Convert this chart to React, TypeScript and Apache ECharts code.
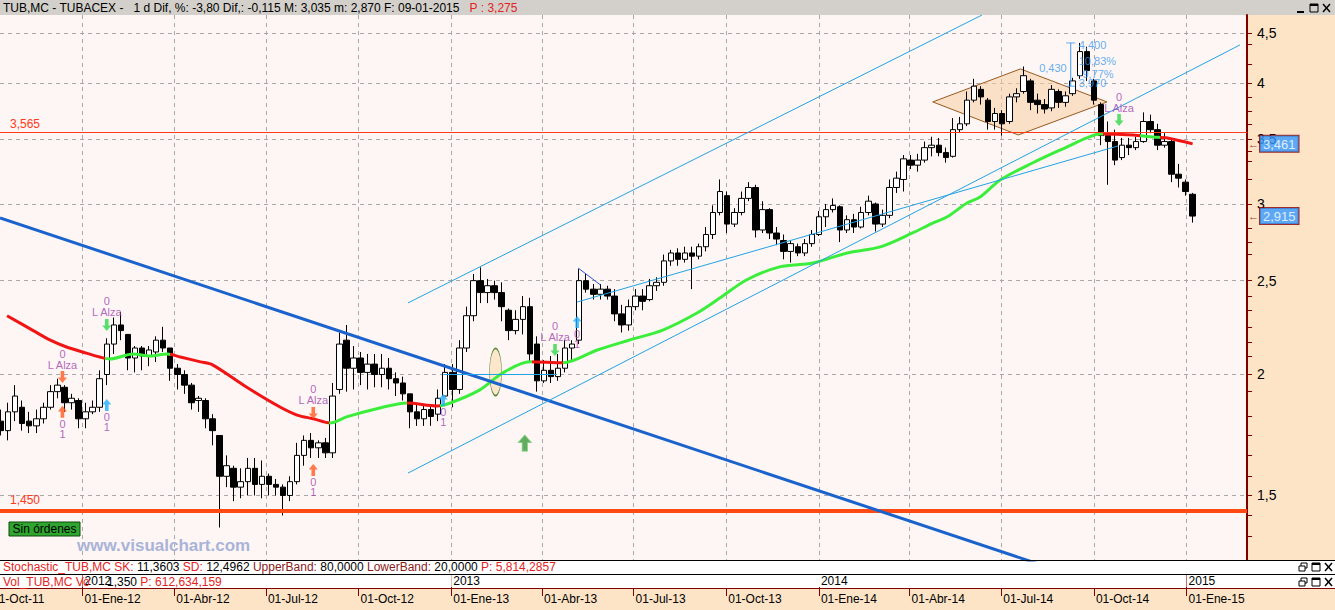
import React, { useEffect, useRef } from 'react';
import * as echarts from 'echarts';

const W = 1335;
const H = 610;
const DAY = 86400000;
const FONT = 'Liberation Sans, Arial, sans-serif';

// ---------- axis / category data ----------
const xMinDate = '2011-10-11';
const xMaxDate = '2015-03-02';
const yMinPrice = 1.2866;
const yMaxPrice = 4.702;
const firstWeek = '2011-10-12';
const quarterDates = ['2012-01-01', '2012-04-01', '2012-07-01', '2012-10-01', '2013-01-01', '2013-04-01', '2013-07-01', '2013-10-01', '2014-01-01', '2014-04-01', '2014-07-01', '2014-10-01', '2015-01-01'];
const yearDates = ['2012-01-01', '2013-01-01', '2014-01-01', '2015-01-01'];
const monthNames = ['Ene', 'Feb', 'Mar', 'Abr', 'May', 'Jun', 'Jul', 'Ago', 'Sep', 'Oct', 'Nov', 'Dic'];
const priceTicks = [1.5, 2, 2.5, 3, 3.5, 4, 4.5];
const minorPriceTicks = [4.39, 4.18, 3.87, 3.74, 3.63, 3.4, 3.32, 3.18, 2.83, 2.74, 2.66, 2.41, 2.33, 2.24, 2.16, 2.09, 1.92, 1.81, 1.73, 1.65, 1.57, 1.43, 1.36];

// ---------- weekly OHLC [open, close, low, high] ----------
const weeklyOHLC = [
  [1.79, 1.75, 1.73, 1.84], [1.75, 1.83, 1.71, 1.87], [1.83, 1.90, 1.79, 1.95], [1.85, 1.78, 1.75, 1.88],
  [1.79, 1.77, 1.74, 1.83], [1.77, 1.80, 1.74, 1.84], [1.80, 1.85, 1.78, 1.87], [1.85, 1.92, 1.84, 1.95],
  [1.92, 1.95, 1.89, 1.98], [1.94, 1.87, 1.83, 1.95], [1.87, 1.89, 1.84, 1.91], [1.88, 1.80, 1.76, 1.89],
  [1.80, 1.83, 1.76, 1.87], [1.83, 1.85, 1.82, 1.88], [1.85, 1.98, 1.83, 2.02], [2.00, 2.15, 1.95, 2.18],
  [2.15, 2.25, 2.10, 2.29], [2.25, 2.22, 2.17, 2.32], [2.20, 2.08, 2.02, 2.20], [2.08, 2.13, 2.01, 2.14],
  [2.13, 2.09, 2.02, 2.14], [2.09, 2.12, 2.04, 2.14], [2.11, 2.17, 2.06, 2.19], [2.17, 2.13, 2.11, 2.24],
  [2.13, 2.03, 1.97, 2.13], [2.03, 2.00, 1.93, 2.05], [2.00, 1.95, 1.91, 2.02], [1.95, 1.87, 1.84, 1.96],
  [1.88, 1.89, 1.83, 1.90], [1.88, 1.80, 1.76, 1.89], [1.80, 1.75, 1.69, 1.82], [1.73, 1.57, 1.39, 1.73],
  [1.57, 1.61, 1.53, 1.65], [1.60, 1.53, 1.48, 1.61], [1.53, 1.55, 1.49, 1.60], [1.55, 1.60, 1.50, 1.64],
  [1.60, 1.54, 1.50, 1.64], [1.54, 1.57, 1.49, 1.63], [1.57, 1.54, 1.50, 1.58], [1.54, 1.53, 1.50, 1.56],
  [1.53, 1.50, 1.43, 1.54], [1.50, 1.55, 1.48, 1.57], [1.55, 1.65, 1.54, 1.70], [1.65, 1.71, 1.61, 1.73],
  [1.71, 1.68, 1.64, 1.74], [1.68, 1.70, 1.64, 1.71], [1.70, 1.66, 1.64, 1.72], [1.66, 1.90, 1.64, 1.96],
  [1.93, 2.15, 1.91, 2.21], [2.17, 2.03, 1.92, 2.25], [2.03, 2.08, 1.93, 2.14], [2.08, 2.01, 1.95, 2.11],
  [2.01, 2.05, 1.93, 2.10], [2.05, 2.00, 1.94, 2.10], [2.00, 2.03, 1.94, 2.10], [2.03, 1.98, 1.93, 2.08],
  [1.98, 1.96, 1.90, 2.01], [1.96, 1.91, 1.88, 1.99], [1.91, 1.83, 1.76, 1.91], [1.83, 1.80, 1.77, 1.86],
  [1.80, 1.84, 1.77, 1.86], [1.84, 1.81, 1.77, 1.86], [1.82, 1.89, 1.79, 1.93], [1.90, 2.01, 1.90, 2.05],
  [2.01, 1.93, 1.85, 2.05], [1.93, 2.13, 1.91, 2.17], [2.13, 2.30, 2.11, 2.35], [2.30, 2.50, 2.27, 2.54],
  [2.50, 2.43, 2.37, 2.58], [2.43, 2.47, 2.37, 2.51], [2.47, 2.43, 2.39, 2.50], [2.43, 2.35, 2.27, 2.49],
  [2.33, 2.22, 2.17, 2.34], [2.22, 2.28, 2.20, 2.33], [2.28, 2.35, 2.20, 2.41], [2.35, 2.10, 2.06, 2.40],
  [2.15, 1.97, 1.92, 2.19], [1.97, 2.02, 1.96, 2.07], [2.02, 1.99, 1.96, 2.09], [1.99, 2.03, 1.97, 2.10],
  [2.03, 2.13, 2.01, 2.17], [2.13, 2.15, 2.07, 2.17], [2.17, 2.50, 2.15, 2.57], [2.50, 2.45, 2.43, 2.54],
  [2.45, 2.42, 2.39, 2.48], [2.42, 2.45, 2.39, 2.48], [2.45, 2.41, 2.39, 2.47], [2.41, 2.31, 2.27, 2.45],
  [2.31, 2.25, 2.21, 2.36], [2.25, 2.35, 2.22, 2.39], [2.35, 2.41, 2.33, 2.45], [2.41, 2.38, 2.33, 2.45],
  [2.39, 2.47, 2.38, 2.51], [2.47, 2.49, 2.44, 2.52], [2.49, 2.62, 2.47, 2.66], [2.62, 2.67, 2.59, 2.69],
  [2.67, 2.63, 2.59, 2.70], [2.63, 2.67, 2.61, 2.71], [2.67, 2.65, 2.45, 2.71], [2.65, 2.71, 2.63, 2.73],
  [2.71, 2.79, 2.68, 2.84], [2.79, 2.94, 2.76, 2.99], [2.94, 3.09, 2.92, 3.18], [3.06, 2.86, 2.80, 3.09],
  [2.86, 2.94, 2.84, 2.97], [2.94, 3.04, 2.92, 3.09], [3.04, 3.12, 3.02, 3.16], [3.12, 2.82, 2.77, 3.14],
  [2.82, 2.96, 2.80, 3.02], [2.96, 2.80, 2.76, 2.97], [2.80, 2.76, 2.72, 2.84], [2.75, 2.68, 2.63, 2.79],
  [2.68, 2.73, 2.61, 2.75], [2.71, 2.67, 2.65, 2.73], [2.67, 2.73, 2.65, 2.76], [2.73, 2.79, 2.71, 2.82],
  [2.79, 2.91, 2.78, 2.95], [2.91, 2.96, 2.84, 3.00], [2.96, 2.99, 2.94, 3.04], [2.98, 2.82, 2.74, 2.99],
  [2.82, 2.89, 2.80, 2.92], [2.89, 2.84, 2.80, 2.93], [2.84, 2.94, 2.83, 2.98], [2.94, 3.02, 2.92, 3.06],
  [3.00, 2.86, 2.81, 3.01], [2.86, 2.92, 2.84, 2.96], [2.92, 3.12, 2.90, 3.18], [3.12, 3.19, 3.08, 3.24],
  [3.18, 3.34, 3.09, 3.37], [3.33, 3.29, 3.26, 3.37], [3.29, 3.33, 3.24, 3.38], [3.33, 3.43, 3.31, 3.48],
  [3.43, 3.45, 3.36, 3.52], [3.45, 3.39, 3.36, 3.51], [3.39, 3.35, 3.31, 3.43], [3.36, 3.58, 3.35, 3.68],
  [3.58, 3.63, 3.56, 3.69], [3.63, 3.84, 3.61, 3.92], [3.84, 3.97, 3.82, 4.04], [3.94, 3.87, 3.80, 3.97],
  [3.84, 3.65, 3.58, 3.86], [3.65, 3.72, 3.58, 3.77], [3.72, 3.63, 3.53, 3.75], [3.65, 3.87, 3.63, 3.90],
  [3.87, 3.90, 3.82, 3.95], [3.92, 4.07, 3.90, 4.16], [4.02, 3.82, 3.75, 4.04], [3.84, 3.80, 3.72, 3.90],
  [3.80, 3.76, 3.72, 3.85], [3.77, 3.94, 3.74, 3.98], [3.92, 3.82, 3.77, 3.94], [3.82, 3.88, 3.78, 3.92],
  [3.90, 4.02, 3.88, 4.05], [4.07, 4.31, 4.04, 4.40], [4.31, 4.12, 4.02, 4.36], [4.02, 3.84, 3.80, 4.04],
  [3.80, 3.53, 3.45, 3.82], [3.53, 3.48, 3.14, 3.65], [3.48, 3.33, 3.29, 3.58], [3.35, 3.45, 3.33, 3.51],
  [3.45, 3.43, 3.37, 3.51], [3.43, 3.48, 3.41, 3.52], [3.48, 3.65, 3.47, 3.73], [3.65, 3.58, 3.55, 3.71],
  [3.58, 3.45, 3.41, 3.63], [3.45, 3.48, 3.43, 3.55], [3.48, 3.22, 3.16, 3.50], [3.22, 3.19, 3.12, 3.30],
  [3.16, 3.09, 3.06, 3.18], [3.07, 2.915, 2.87, 3.08],
];

// ---------- moving average ----------
const maDates = ['2011-10-18', '2011-11-13', '2011-11-30', '2011-12-16', '2012-01-01', '2012-01-18', '2012-01-28', '2012-02-20', '2012-03-08', '2012-03-25', '2012-04-07', '2012-04-27', '2012-05-09', '2012-06-12', '2012-07-15', '2012-08-01', '2012-08-17', '2012-09-03', '2012-09-19', '2012-10-22', '2012-11-18', '2012-12-18', '2012-12-31', '2013-01-29', '2013-02-21', '2013-03-20', '2013-04-22', '2013-05-26', '2013-06-27', '2013-07-30', '2013-09-02', '2013-09-25', '2013-10-21', '2013-11-23', '2013-12-26', '2014-01-29', '2014-03-03', '2014-04-04', '2014-04-24', '2014-05-08', '2014-05-28', '2014-06-10', '2014-06-30', '2014-08-01', '2014-09-04', '2014-09-24', '2014-10-07', '2014-11-09', '2014-11-29', '2014-12-13', '2015-01-07'];
const maValues = [2.30, 2.22, 2.17, 2.135, 2.11, 2.085, 2.075, 2.10, 2.09, 2.10, 2.085, 2.061, 2.046, 1.94, 1.851, 1.816, 1.80, 1.782, 1.808, 1.847, 1.869, 1.856, 1.869, 1.927, 2.007, 2.061, 2.056, 2.12, 2.171, 2.223, 2.315, 2.40, 2.504, 2.583, 2.607, 2.67, 2.709, 2.80, 2.867, 2.908, 3.007, 3.05, 3.176, 3.307, 3.435, 3.51, 3.543, 3.535, 3.518, 3.51, 3.461];
const MA_RED = '#f01414';
const MA_GREEN = '#3cee3c';
const maSegmentEnds = ['2012-01-23', '2012-03-28', '2012-09-02', '2012-11-18', '2012-12-21', '2013-03-22', '2013-04-22', '2014-10-10', '2014-11-16', '2014-12-06'];
const maSegmentColors = [MA_RED, MA_GREEN, MA_RED, MA_GREEN, MA_RED, MA_GREEN, MA_RED, MA_GREEN, MA_RED, MA_GREEN, MA_RED];

// ---------- levels & drawings ----------
const resistanceLevel = 3.565;
const supportLevel = 1.45;
const trendLines = [
  { from: ['2011-10-11', 2.902], to: ['2014-10-07', 1.214], color: '#1b63cc', width: 3 },
  { from: ['2012-11-19', 2.371], to: ['2014-06-12', 4.702], color: '#22a2e6', width: 1 },
  { from: ['2012-11-19', 1.582], to: ['2015-02-23', 4.379], color: '#22a2e6', width: 1 },
  { from: ['2013-05-06', 2.376], to: ['2014-10-25', 3.444], color: '#22a2e6', width: 1 },
  { from: ['2013-05-07', 2.576], to: ['2013-05-29', 2.475], color: '#2a50d0', width: 1 },
  { from: ['2012-12-24', 2.0], to: ['2013-04-16', 2.0], color: '#22a2e6', width: 1 },
];
const diamondVerts = [['2014-04-24', 3.824], ['2014-07-20', 4.136], ['2014-10-14', 3.824], ['2014-07-18', 3.535]];
const ellipseAt = { date: '2013-02-14', price: 2.012 };

const downSignals = [
  { date: '2011-12-12', price: 1.988, color: '#ff5a22' },
  { date: '2012-01-25', price: 2.25, color: '#2ed84a' },
  { date: '2012-08-17', price: 1.825, color: '#ff5a22' },
  { date: '2013-04-14', price: 2.12, color: '#2ed84a' },
  { date: '2014-10-26', price: 3.663, color: '#2ed84a' },
];
const upSignals = [
  { date: '2011-12-12', price: 1.83, color: '#ff5a22' },
  { date: '2012-01-25', price: 1.86, color: '#20b0ff' },
  { date: '2012-08-17', price: 1.594, color: '#ff5a22' },
  { date: '2012-12-24', price: 1.882, color: '#20b0ff' },
  { date: '2013-05-06', price: 2.266, color: '#20b0ff' },
];
const buyMarker = { date: '2013-03-15', price: 1.699 };

const measureDate = '2014-09-08';
const measureHigh = 4.4;
const measureLow = 3.97;
const measureLabels = [
  { text: '4,400', price: 4.38, side: 'right' },
  { text: '10,83%', price: 4.215, side: 'right' },
  { text: '0,430', price: 4.145, side: 'left' },
  { text: '-9,77%', price: 4.087, side: 'right' },
  { text: '3,970', price: 4.0, side: 'right' },
];
const lastMA = 3.461;
const lastClose = 2.915;

// ---------- helpers ----------
const ts = (s: string) => {
  const [y, m, d] = s.split('-').map(Number);
  return Date.UTC(y, m - 1, d);
};
const L = Math.log;
const comma = (n: number, dec: number) => n.toFixed(dec).replace('.', ',');
const fmtDate = (v: number) => {
  const d = new Date(v);
  return `${String(d.getUTCDate()).padStart(2, '0')}-${monthNames[d.getUTCMonth()]}-${String(d.getUTCFullYear()).slice(2)}`;
};
const ARROW = 'path://M5,0L10,6L7,6L7,13L3,13L3,6L0,6Z';

function buildOption() {
  const xMin = ts(xMinDate);
  const xMax = ts(xMaxDate);
  const quarterTs = quarterDates.map(ts);
  const yearTs = yearDates.map(ts);
  const t0 = ts(firstWeek);

  const candleData = weeklyOHLC.map((r, i) => [t0 + i * 7 * DAY, L(r[0]), L(r[1]), L(r[2]), L(r[3])]);
  const maData = maDates.map((d, i) => [ts(d), L(maValues[i])]);

  const pieces = maSegmentColors.map((c, i) => {
    const p: any = { color: c };
    if (i > 0) p.gte = ts(maSegmentEnds[i - 1]);
    if (i < maSegmentEnds.length) p.lt = ts(maSegmentEnds[i]);
    return p;
  });

  const series: any[] = [];

  series.push({
    type: 'custom',
    xAxisIndex: 0,
    yAxisIndex: 0,
    z: 1,
    silent: true,
    data: diamondVerts.map((v) => [ts(v[0] as string), L(v[1] as number)]),
    encode: { x: 0, y: 1 },
    renderItem: (params: any, api: any) => {
      if (params.dataIndex !== 0) return null;
      const pts = diamondVerts.map((v) => api.coord([ts(v[0] as string), L(v[1] as number)]));
      return {
        type: 'polygon',
        shape: { points: pts },
        style: { fill: 'rgba(246,206,160,0.55)', stroke: '#9a5a20', lineWidth: 1 },
      };
    },
  });

  series.push({
    type: 'scatter',
    xAxisIndex: 0,
    yAxisIndex: 0,
    z: 2,
    silent: true,
    symbol: 'circle',
    symbolSize: [12, 47],
    itemStyle: { color: '#fbe2c2', borderColor: '#2f6a12', borderWidth: 1 },
    data: [[ts(ellipseAt.date), L(ellipseAt.price)]],
  });

  series.push({
    type: 'candlestick',
    xAxisIndex: 0,
    yAxisIndex: 0,
    z: 3,
    barWidth: 6,
    data: candleData,
    itemStyle: { color: '#ffffff', color0: '#000000', borderColor: '#000000', borderColor0: '#000000', borderWidth: 1 },
    markLine: {
      silent: true,
      symbol: 'none',
      data: [
        {
          yAxis: L(resistanceLevel),
          lineStyle: { color: '#ff3a1a', width: 1, type: 'solid' },
          label: { show: true, position: 'insideStartTop', formatter: comma(resistanceLevel, 3), color: '#ff3a1a', fontSize: 12, fontFamily: FONT, distance: [10, 2] },
        },
        {
          yAxis: L(supportLevel),
          lineStyle: { color: '#ff4a14', width: 4, type: 'solid' },
          label: { show: true, position: 'insideStartTop', formatter: comma(supportLevel, 3), color: '#ff3a1a', fontSize: 12, fontFamily: FONT, distance: [10, 4] },
        },
      ],
    },
  });

  const maIndex = series.length;
  series.push({
    type: 'line',
    xAxisIndex: 0,
    yAxisIndex: 0,
    z: 4,
    data: maData,
    smooth: 0.3,
    symbol: 'none',
    lineStyle: { width: 3 },
  });

  trendLines.forEach((t) => {
    series.push({
      type: 'line',
      xAxisIndex: 0,
      yAxisIndex: 0,
      z: 5,
      symbol: 'none',
      silent: true,
      data: [
        [ts(t.from[0] as string), L(t.from[1] as number)],
        [ts(t.to[0] as string), L(t.to[1] as number)],
      ],
      lineStyle: { color: t.color, width: t.width },
    });
  });

  // measurement line
  series.push({
    type: 'line',
    xAxisIndex: 0,
    yAxisIndex: 0,
    z: 6,
    symbol: 'none',
    data: [
      [ts(measureDate), L(measureHigh)],
      [ts(measureDate), L(measureLow)],
    ],
    lineStyle: { color: '#3a9af0', width: 1 },
  });
  series.push({
    type: 'scatter',
    xAxisIndex: 0,
    yAxisIndex: 0,
    z: 6,
    symbol: 'rect',
    symbolSize: [9, 1],
    itemStyle: { color: '#3a9af0' },
    data: [[ts(measureDate), L(measureHigh)], [ts(measureDate), L(measureLow)]],
  });
  series.push({
    type: 'scatter',
    xAxisIndex: 0,
    yAxisIndex: 0,
    z: 7,
    symbolSize: 0,
    data: measureLabels.map((m) => ({
      value: [ts(measureDate), L(m.price)],
      label: {
        show: true,
        position: m.side,
        distance: m.side === 'right' ? 8 : 4,
        formatter: m.text,
        color: '#3a9af0',
        fontSize: 11,
        lineHeight: 11,
        fontFamily: FONT,
      },
    })),
  });

  // signals
  const sigData: any[] = [];
  downSignals.forEach((s) => {
    sigData.push({
      value: [ts(s.date), L(s.price)],
      symbol: ARROW,
      symbolSize: [9, 12],
      symbolRotate: 180,
      itemStyle: { color: s.color },
      label: { show: true, position: 'top', distance: 1, formatter: '0\nL Alza', color: '#a040b0', fontSize: 11, lineHeight: 11, fontFamily: FONT, align: 'center' },
    });
  });
  upSignals.forEach((s) => {
    sigData.push({
      value: [ts(s.date), L(s.price)],
      symbol: ARROW,
      symbolSize: [9, 12],
      itemStyle: { color: s.color },
      label: { show: true, position: 'bottom', distance: 1, formatter: '0\n1', color: '#a040b0', fontSize: 11, lineHeight: 10, fontFamily: FONT, align: 'center' },
    });
  });
  sigData.push({
    value: [ts(buyMarker.date), L(buyMarker.price)],
    symbol: ARROW,
    symbolSize: [13, 16],
    itemStyle: { color: '#3a9a3a', borderColor: '#7ad07a', borderWidth: 1 },
  });
  series.push({ type: 'scatter', xAxisIndex: 0, yAxisIndex: 0, z: 8, data: sigData });

  // axis value boxes
  series.push({
    type: 'scatter',
    xAxisIndex: 0,
    yAxisIndex: 0,
    z: 9,
    symbolSize: 0,
    clip: false,
    data: [lastMA, lastClose].map((v) => ({
      value: [xMax, L(v)],
      label: {
        show: true,
        position: 'right',
        distance: 1,
        formatter: `{a|←}{b|${comma(v, 3)}}`,
        rich: {
          a: { color: '#800000', fontSize: 11, fontFamily: FONT, padding: [0, 1, 0, 0] },
          b: { color: '#ffffff', backgroundColor: '#3399ff', borderColor: '#800000', borderWidth: 1, padding: [2, 3, 1, 3], fontSize: 13, fontFamily: FONT },
        },
      },
    })),
  });

  const dashed = { color: '#a8a8a8', type: [4, 4] as any, width: 1 };

  // zrender rich styles for graphic text use `fill`
  const rich = {
    k: { fill: '#000000', fontSize: 12, fontFamily: FONT },
    r: { fill: '#e52222', fontSize: 12, fontFamily: FONT },
    d: { fill: '#8b1a1a', fontSize: 12, fontFamily: FONT },
  };

  const icon = (x: number, y: number, restore: boolean) => {
    const els: any[] = [];
    if (restore) {
      els.push({ type: 'rect', shape: { x: x + 2, y: y, width: 6, height: 5 }, style: { fill: 'none', stroke: '#000', lineWidth: 1 } });
      els.push({ type: 'rect', shape: { x: x, y: y + 3, width: 6, height: 5 }, style: { fill: '#fff', stroke: '#000', lineWidth: 1 } });
    } else {
      els.push({ type: 'line', shape: { x1: x, y1: y + 8, x2: x + 7, y2: y + 8 }, style: { stroke: '#000', lineWidth: 2 } });
    }
    els.push({ type: 'rect', shape: { x: x + 13, y: y, width: 8, height: 8 }, style: { fill: 'none', stroke: '#000', lineWidth: 1 } });
    els.push({ type: 'line', shape: { x1: x + 13, y1: y + 1, x2: x + 21, y2: y + 1 }, style: { stroke: '#000', lineWidth: 2 } });
    els.push({ type: 'line', shape: { x1: x + 26, y1: y, x2: x + 33, y2: y + 8 }, style: { stroke: '#000', lineWidth: 1.5 } });
    els.push({ type: 'line', shape: { x1: x + 33, y1: y, x2: x + 26, y2: y + 8 }, style: { stroke: '#000', lineWidth: 1.5 } });
    return els;
  };

  const graphic: any[] = [
    { type: 'rect', z: -10, shape: { x: 0, y: 0, width: W, height: 15 }, style: { fill: '#d3d0cb' } },
    { type: 'rect', z: -10, shape: { x: 1247, y: 15, width: W - 1247, height: 545 }, style: { fill: '#fde4c6' } },
    { type: 'rect', z: -10, shape: { x: 0, y: 589, width: W, height: 21 }, style: { fill: '#fde4c6' } },
    { type: 'line', z: 10, shape: { x1: 0, y1: 560.5, x2: W, y2: 560.5 }, style: { stroke: '#000', lineWidth: 1 } },
    { type: 'line', z: 10, shape: { x1: 0, y1: 574.5, x2: W, y2: 574.5 }, style: { stroke: '#000', lineWidth: 1 } },
    { type: 'line', z: 10, shape: { x1: 0, y1: 588.5, x2: W, y2: 588.5 }, style: { stroke: '#800000', lineWidth: 1 } },
    {
      type: 'text', z: 10, x: 3, y: 7.5,
      style: {
        text: '{k|TUB,MC - TUBACEX -   1 d Dif, %: -3,80 Dif,: -0,115 M: 3,035 m: 2,870 F: 09-01-2015   }{r|P : 3,275}',
        rich, verticalAlign: 'middle',
      },
    },
    {
      type: 'text', z: 10, x: 3, y: 566.5,
      style: {
        text: '{r|Stochastic_TUB,MC SK: }{k|11,3603 }{r|SD: }{k|12,4962 }{d|UpperBand: }{k|80,0000 }{d|LowerBand: }{k|20,0000 }{r|P: 5,814,2857}',
        rich, verticalAlign: 'middle',
      },
    },
    { type: 'text', z: 10, x: 3, y: 581.5, style: { text: '{r|Vol_TUB,MC Vo}', rich, verticalAlign: 'middle' } },
    { type: 'text', z: 10, x: 107, y: 581.5, style: { text: '{k|1,350 }{r|P: 612,634,159}', rich, verticalAlign: 'middle' } },
    { type: 'text', z: 10, x: -8, y: 599, style: { text: '01-Oct-11', fill: '#000', fontSize: 12, fontFamily: FONT, verticalAlign: 'middle' } },
    { type: 'rect', z: 10, shape: { x: 9, y: 522, width: 71, height: 14 }, style: { fill: '#2ea52e', stroke: '#0c4a0c', lineWidth: 1 } },
    { type: 'text', z: 11, x: 44.5, y: 529, style: { text: 'Sin órdenes', fill: '#000', fontSize: 12, fontFamily: FONT, align: 'center', verticalAlign: 'middle' } },
    { type: 'text', z: 10, x: 77, y: 545, style: { text: 'www.visualchart.com', fill: '#aab3d8', fontSize: 17, fontWeight: 'bold', fontFamily: FONT, verticalAlign: 'middle' } },
    ...icon(1297, 4, false),
    ...icon(1299, 563, true),
    ...icon(1299, 578, true),
  ];

  return {
    animation: false,
    backgroundColor: '#ffffff',
    textStyle: { fontFamily: FONT },
    grid: [
      { left: 0, top: 15, width: 1247, height: 545, show: true, backgroundColor: '#fdf6f4', borderWidth: 0 },
      { left: 0, top: 588, width: 1247, height: 1 },
      { left: 0, top: 574, width: 1247, height: 15 },
    ],
    xAxis: [
      {
        type: 'value', gridIndex: 0, min: xMin, max: xMax,
        axisLine: { show: false },
        axisTick: { show: false, customValues: quarterTs },
        axisLabel: { show: false },
        splitLine: { show: true, lineStyle: dashed },
      },
      {
        type: 'value', gridIndex: 1, min: xMin, max: xMax, position: 'bottom',
        axisLine: { show: false },
        axisTick: { show: true, customValues: quarterTs, length: 7, lineStyle: { color: '#800000', width: 1 } },
        axisLabel: { show: true, customValues: quarterTs, formatter: (v: number) => fmtDate(v), align: 'left', margin: 4, fontSize: 12, color: '#000', padding: [0, 0, 0, 2] },
        splitLine: { show: false },
      },
      {
        type: 'value', gridIndex: 2, min: xMin, max: xMax, position: 'bottom',
        axisLine: { show: false },
        axisTick: { show: true, inside: true, customValues: yearTs, length: 15, lineStyle: { color: '#800000', width: 1 } },
        axisLabel: { show: true, inside: true, customValues: yearTs, formatter: (v: number) => String(new Date(v).getUTCFullYear()), align: 'left', margin: 2, fontSize: 12, color: '#000', backgroundColor: '#ffffff', padding: [0, 1, 0, 2] },
        splitLine: { show: false },
      },
    ],
    yAxis: [
      {
        type: 'value', gridIndex: 0, position: 'right', min: L(yMinPrice), max: L(yMaxPrice),
        axisLine: { show: true, lineStyle: { color: '#800000', width: 2 } },
        axisTick: { show: true, customValues: priceTicks.map(L), length: 5, lineStyle: { color: '#800000' } },
        axisLabel: {
          show: true, customValues: priceTicks.map(L), margin: 10, fontSize: 14, color: '#000',
          formatter: (v: number) => String(Math.round(Math.exp(v) * 10) / 10).replace('.', ','),
        },
        splitLine: { show: true, lineStyle: dashed },
      },
      {
        type: 'value', gridIndex: 0, position: 'right', min: L(yMinPrice), max: L(yMaxPrice),
        axisLine: { show: false },
        axisTick: { show: true, customValues: minorPriceTicks.map(L), length: 5, lineStyle: { color: '#800000' } },
        axisLabel: { show: false },
        splitLine: { show: false },
      },
      { type: 'value', gridIndex: 1, show: false },
      { type: 'value', gridIndex: 2, show: false },
    ],
    visualMap: [
      { type: 'piecewise', show: false, dimension: 0, seriesIndex: maIndex, pieces },
    ],
    series,
    graphic,
  };
}

export default function App() {
  const ref = useRef<HTMLDivElement>(null);
  useEffect(() => {
    document.body.style.margin = '0';
    const chart = echarts.init(ref.current as HTMLDivElement, undefined, { renderer: 'svg', width: W, height: H });
    chart.setOption(buildOption() as any);
    return () => chart.dispose();
  }, []);
  return <div ref={ref} style={{ width: W, height: H, position: 'absolute', left: 0, top: 0 }} />;
}
